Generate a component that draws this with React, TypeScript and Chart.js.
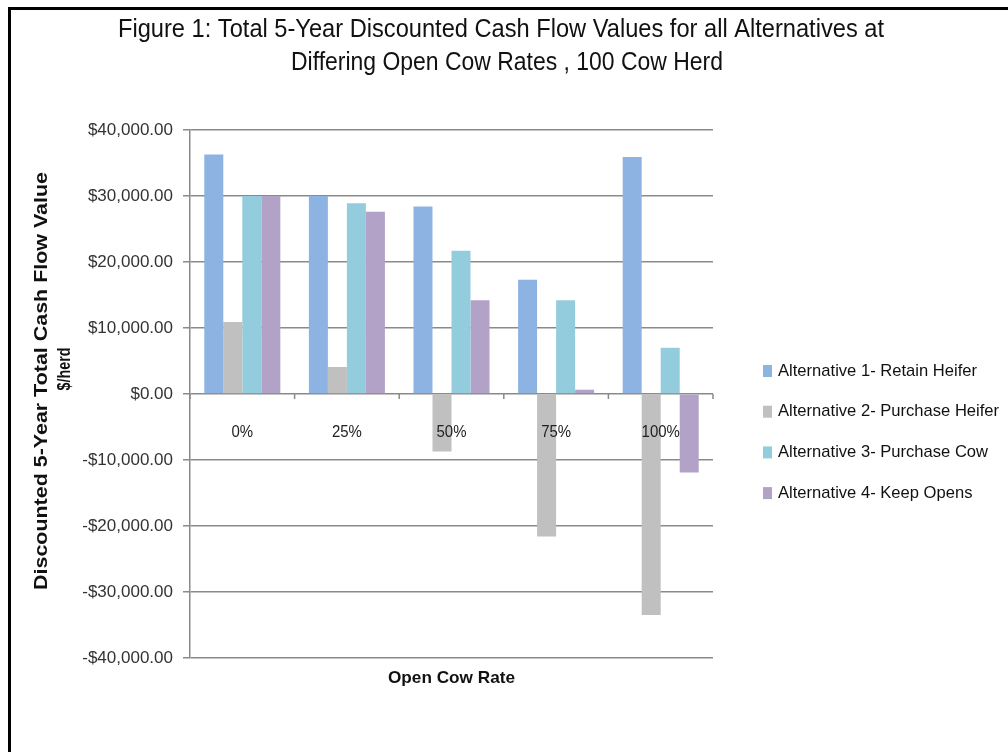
import React, { useEffect, useRef } from 'react';
import { Chart, registerables } from 'chart.js';

Chart.register(...registerables);

const categories = ['0%', '25%', '50%', '75%', '100%'];
const seriesLabels = [
  'Alternative 1- Retain Heifer',
  'Alternative 2- Purchase Heifer',
  'Alternative 3- Purchase Cow',
  'Alternative 4- Keep Opens',
];
const retainHeifer = [36300, 30000, 28400, 17300, 35900];
const purchaseHeifer = [10900, 4100, -8700, -21600, -33500];
const purchaseCow = [30000, 28900, 21700, 14200, 7000];
const keepOpens = [30000, 27600, 14200, 650, -11900];
const seriesColors = ['#8DB3E2', '#C0C0C0', '#93CDDD', '#B3A2C7'];

const titleLines = [
  'Figure 1: Total 5-Year Discounted Cash Flow Values for all Alternatives at',
  'Differing Open Cow Rates , 100 Cow Herd',
];
const yTitleLines = ['Discounted 5-Year Total Cash Flow Value', '$/herd'];
const xTitle = 'Open Cow Rate';
const yMin = -40000;
const yMax = 40000;
const yStep = 10000;

const FONT = '"Liberation Sans", Arial, sans-serif';

function formatMoney(v: number): string {
  const abs = Math.abs(v).toLocaleString('en-US', {
    minimumFractionDigits: 2,
    maximumFractionDigits: 2,
  });
  return (v < 0 ? '-$' : '$') + abs;
}

function drawText(
  ctx: CanvasRenderingContext2D,
  text: string,
  x: number,
  y: number,
  font: string,
  sx: number,
  opts: { rotate?: boolean; color?: string; align?: CanvasTextAlign } = {}
) {
  ctx.save();
  ctx.font = font;
  ctx.translate(x, y);
  if (opts.rotate) ctx.rotate(-Math.PI / 2);
  ctx.scale(sx, 1);
  ctx.textAlign = opts.align || 'center';
  ctx.textBaseline = 'middle';
  ctx.fillStyle = opts.color || '#000';
  ctx.fillText(text, 0, 0);
  ctx.restore();
}

function fitText(
  ctx: CanvasRenderingContext2D,
  text: string,
  cx: number,
  cy: number,
  font: string,
  width: number,
  rotate = false,
  color = '#000'
) {
  ctx.save();
  ctx.font = font;
  const w = ctx.measureText(text).width;
  ctx.restore();
  drawText(ctx, text, cx, cy, font, width / w, { rotate, color });
}

const decorPlugin = {
  id: 'decor',
  afterDraw(chart: any) {
    const ctx: CanvasRenderingContext2D = chart.ctx;
    const xs = chart.scales.x;
    const ys = chart.scales.y;
    const area = chart.chartArea;

    // Title
    fitText(ctx, titleLines[0], 501, 30, `25px ${FONT}`, 766, false, '#111');
    fitText(ctx, titleLines[1], 507, 63, `25px ${FONT}`, 432, false, '#111');

    // Y axis title
    fitText(ctx, yTitleLines[0], 42, 381, `bold 19px ${FONT}`, 418, true, '#111');
    fitText(ctx, yTitleLines[1], 65, 369, `bold 19px ${FONT}`, 43, true, '#111');

    // X axis title
    fitText(ctx, xTitle, (area.left + area.right) / 2, 678, `bold 17px ${FONT}`, 127, false, '#111');

    // Category axis at zero: tick marks and labels
    const zeroY = ys.getPixelForValue(0);
    ctx.save();
    ctx.strokeStyle = '#8a8a8a';
    ctx.lineWidth = 1.5;
    for (let i = 0; i <= categories.length; i++) {
      const x = xs.getPixelForValue(i - 0.5);
      ctx.beginPath();
      ctx.moveTo(x, zeroY);
      ctx.lineTo(x, zeroY + 5);
      ctx.stroke();
    }
    ctx.restore();
    categories.forEach((c, i) => {
      drawText(ctx, c, xs.getPixelForValue(i), zeroY + 38, `17px ${FONT}`, 0.88, { color: '#222' });
    });

    // Legend
    const legX = 763;
    const legY0 = 371;
    const legStep = 40.7;
    const legFont = `17px ${FONT}`;
    ctx.save();
    ctx.font = legFont;
    const legScale = 199 / ctx.measureText(seriesLabels[0]).width;
    ctx.restore();
    seriesLabels.forEach((label, i) => {
      const y = legY0 + i * legStep;
      ctx.fillStyle = seriesColors[i];
      ctx.fillRect(legX, y - 6, 9, 12);
      drawText(ctx, label, legX + 15, y, legFont, legScale, { align: 'left', color: '#111' });
    });
  },
};

export default function App() {
  const canvasRef = useRef<HTMLCanvasElement | null>(null);

  useEffect(() => {
    if (!canvasRef.current) return;
    const seriesValues = [retainHeifer, purchaseHeifer, purchaseCow, keepOpens];
    const chart = new Chart(canvasRef.current, {
      type: 'bar',
      data: {
        labels: categories,
        datasets: seriesLabels.map((label, i) => ({
          label,
          data: seriesValues[i],
          backgroundColor: seriesColors[i],
          borderWidth: 0,
          categoryPercentage: 0.727,
          barPercentage: 1.0,
        })),
      },
      options: {
        responsive: false,
        animation: false,
        layout: { padding: { top: 130, bottom: 94, left: 0, right: 295 } },
        plugins: {
          legend: { display: false },
          title: { display: false },
          tooltip: { enabled: false },
        },
        scales: {
          x: {
            display: false,
          },
          y: {
            min: yMin,
            max: yMax,
            afterFit(scale: any) {
              scale.width = 190;
            },
            ticks: {
              stepSize: yStep,
              padding: 10,
              color: '#333',
              font: { family: FONT, size: 17 },
              callback: (v: any) => formatMoney(Number(v)),
            },
            grid: {
              color: '#8a8a8a',
              lineWidth: 1.5,
              tickLength: 7,
            },
            border: { display: true, color: '#8a8a8a', width: 1.5 },
          },
        },
      },
      plugins: [decorPlugin],
    });
    return () => chart.destroy();
  }, []);

  return (
    <>
      <div
        style={{
          position: 'fixed',
          left: 8,
          top: 7,
          width: 1010,
          height: 760,
          borderTop: '3px solid #000',
          borderLeft: '3px solid #000',
          boxSizing: 'border-box',
          background: '#fff',
        }}
      />
      <canvas
        ref={canvasRef}
        width={1008}
        height={752}
        style={{ position: 'fixed', left: 0, top: 0 }}
      />
    </>
  );
}
